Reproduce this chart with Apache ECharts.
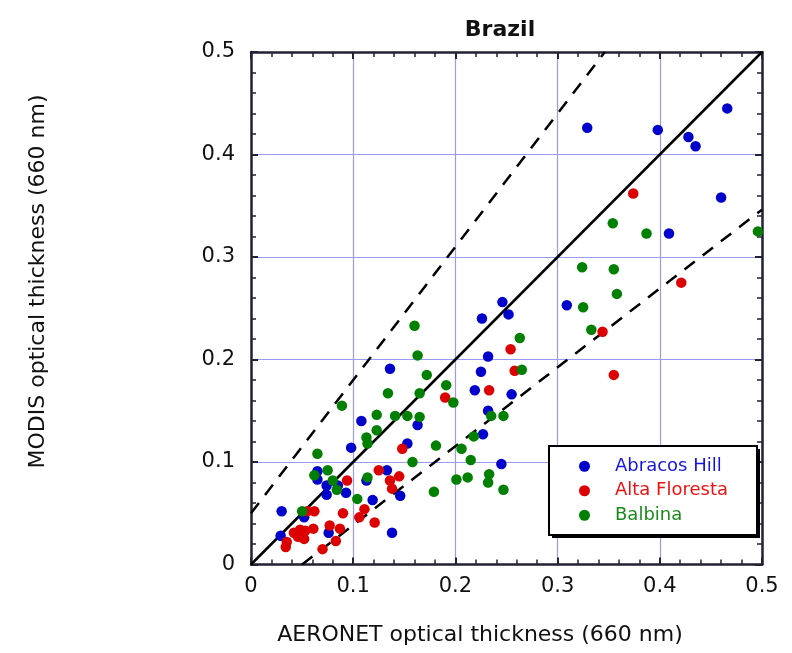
<!DOCTYPE html>
<html>
<head>
<meta charset="utf-8">
<script src="https://cdn.jsdelivr.net/npm/echarts@6/dist/echarts.min.js"></script>
<style>html,body{margin:0;padding:0;background:#fff}#c{width:792px;height:653px}</style>
</head>
<body>
<div id="c"></div>
<script>
const titleText = 'Brazil';
const xName = 'AERONET optical thickness (660 nm)';
const yName = 'MODIS optical thickness (660 nm)';
const seriesNames = ['Abracos Hill', 'Alta Floresta', 'Balbina'];
const tickValues = [0, 0.1, 0.2, 0.3, 0.4, 0.5];

const abracosHill = [
  [0.329,0.426],[0.398,0.424],[0.428,0.417],[0.435,0.408],[0.466,0.445],[0.460,0.358],
  [0.409,0.323],[0.246,0.256],[0.252,0.244],[0.309,0.253],[0.255,0.166],[0.245,0.098],
  [0.226,0.240],[0.232,0.203],[0.225,0.188],[0.219,0.170],[0.232,0.150],[0.227,0.127],
  [0.136,0.191],[0.108,0.140],[0.163,0.136],[0.153,0.118],[0.098,0.114],[0.065,0.091],
  [0.065,0.083],[0.133,0.092],[0.146,0.067],[0.074,0.077],[0.085,0.077],[0.093,0.070],
  [0.113,0.082],[0.119,0.063],[0.138,0.031],[0.076,0.031],[0.030,0.052],[0.052,0.046],
  [0.029,0.028],[0.074,0.068]
];
const altaFloresta = [
  [0.374,0.362],[0.421,0.275],[0.344,0.227],[0.254,0.210],[0.258,0.189],[0.355,0.185],
  [0.233,0.170],[0.190,0.163],[0.148,0.113],[0.125,0.092],[0.145,0.086],[0.136,0.082],
  [0.138,0.074],[0.094,0.082],[0.111,0.054],[0.106,0.046],[0.121,0.041],[0.090,0.050],
  [0.087,0.035],[0.083,0.023],[0.077,0.038],[0.070,0.015],[0.055,0.052],[0.062,0.052],
  [0.061,0.035],[0.042,0.031],[0.048,0.034],[0.053,0.033],[0.046,0.027],[0.052,0.025],
  [0.035,0.022],[0.034,0.017]
];
const balbina = [
  [0.354,0.333],[0.387,0.323],[0.496,0.325],[0.324,0.290],[0.355,0.288],[0.358,0.264],
  [0.325,0.251],[0.333,0.229],[0.263,0.221],[0.265,0.190],[0.247,0.145],[0.247,0.073],
  [0.160,0.233],[0.163,0.204],[0.172,0.185],[0.191,0.175],[0.198,0.158],[0.165,0.167],
  [0.134,0.167],[0.089,0.155],[0.123,0.146],[0.141,0.145],[0.153,0.145],[0.165,0.144],
  [0.123,0.131],[0.113,0.124],[0.114,0.118],[0.235,0.145],[0.218,0.125],[0.181,0.116],
  [0.206,0.113],[0.215,0.102],[0.158,0.100],[0.065,0.108],[0.062,0.087],[0.075,0.092],
  [0.080,0.082],[0.084,0.073],[0.114,0.085],[0.104,0.064],[0.179,0.071],[0.201,0.083],
  [0.212,0.085],[0.233,0.088],[0.232,0.080],[0.050,0.052]
];
const oneToOne = [[0,0],[0.5,0.5]];
const upperEnvelope = [[0,0.05],[0.3462,0.5]];
const lowerEnvelope = [[0.05,0],[0.5,0.3462]];

const FONT = 'DejaVu Sans';
const markerColors = ['#0000cc','#dd0000','#008000'];
const textColors = ['#1515e0','#ee1111','#1a8a1a'];

const chart = echarts.init(document.getElementById('c'), null, {renderer:'canvas'});

function axisBase(pos, show, margin){
  return {
    type:'value', min:0, max:0.5, interval:0.1, position:pos,
    axisLine:{show:true, onZero:false, lineStyle:{color:'#222233', width:2.5}},
    axisTick:{show:true, inside:true, length:7, lineStyle:{color:'#222233', width:2}},
    minorTick:{show:true, splitNumber:5, length:5, lineStyle:{color:'#222233', width:1.5}},
    splitLine:{show:show, lineStyle:{color:'#9a9af0', width:1.2}},
    axisLabel:{show:show, fontFamily:FONT, fontSize:21, color:'#111', margin:margin || 8,
      formatter: v => { const t = tickValues.find(x => Math.abs(x - v) < 1e-9); return t === 0 ? '0' : String(t); } }
  };
}

function scatter(name, data, i){
  return {
    name, type:'scatter', data, xAxisIndex:0, yAxisIndex:0,
    symbol:'circle', symbolSize:10.5,
    itemStyle:{color:markerColors[i], opacity:1},
    z:5
  };
}
function refLine(data, dashed){
  return {
    type:'line', data, xAxisIndex:0, yAxisIndex:0, symbol:'none', silent:true,
    lineStyle:{color:'#000', width:2.5, type: dashed ? [13,10] : 'solid'},
    z:3
  };
}

chart.setOption({
  animation:false,
  backgroundColor:'#fff',
  title:{text:titleText, left:495, textAlign:'center', top:14,
    textStyle:{fontFamily:FONT, fontSize:22, fontWeight:'bold', color:'#111'}},
  grid:{left:251, right:30, top:52, bottom:88.5, containLabel:false},
  xAxis:[axisBase('bottom', true, 12), axisBase('top', false)],
  yAxis:[axisBase('left', true, 16), axisBase('right', false)],
  graphic:[
    {type:'text', z:10, x:480, y:635,
      style:{text:xName, font:'22px "DejaVu Sans"', fill:'#111', x:0, y:0, align:'center', verticalAlign:'middle'}},
    {type:'text', z:10, rotation:Math.PI/2, x:38, y:281.5,
      style:{text:yName, font:'22px "DejaVu Sans"', fill:'#111', x:0, y:0, align:'center', verticalAlign:'middle'}},
    {type:'rect', z:50, shape:{x:552, y:449, width:208, height:89}, style:{fill:'#000'}},
    {type:'rect', z:51, shape:{x:549, y:446, width:208, height:89}, style:{fill:'#fff', stroke:'#000', lineWidth:2}}
  ],
  legend:{
    orient:'vertical', left:579, top:454, z:60,
    padding:0, itemGap:0,
    icon:'circle', itemWidth:11, itemHeight:11,
    textStyle:{fontFamily:FONT, fontSize:18, lineHeight:24.5, padding:[0,0,0,20]},
    data: seriesNames.map((n,i) => ({name:n, textStyle:{color:textColors[i]}}))
  },
  series:[
    refLine(oneToOne,false),
    refLine(upperEnvelope,true),
    refLine(lowerEnvelope,true),
    scatter(seriesNames[0], abracosHill, 0),
    scatter(seriesNames[1], altaFloresta, 1),
    scatter(seriesNames[2], balbina, 2)
  ]
});
</script>
</body>
</html>
